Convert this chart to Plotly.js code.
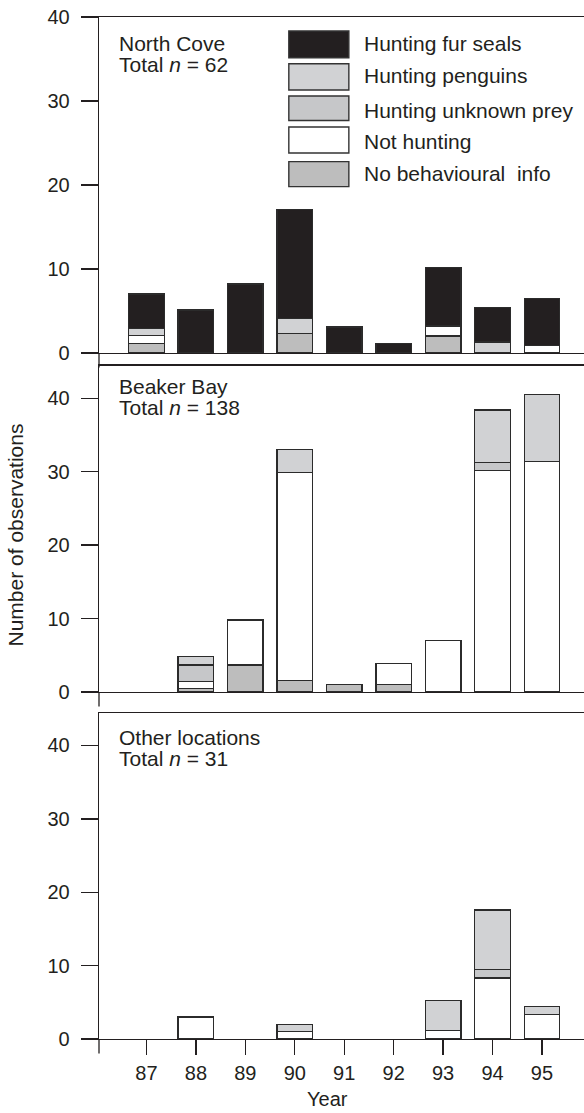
<!DOCTYPE html>
<html><head><meta charset="utf-8">
<script src="https://cdn.plot.ly/plotly-3.0.1.min.js"></script>
<style>html,body{margin:0;padding:0;background:#fff}</style>
</head><body><div id="chart" style="width:584px;height:1113px"></div>
<script>
// ---------- DATA ----------
const years = [87, 88, 89, 90, 91, 92, 93, 94, 95];
const yTicks = [0, 10, 20, 30, 40];
const seriesNames = ['No behavioural\u00a0 info', 'Not hunting', 'Hunting unknown prey', 'Hunting penguins', 'Hunting fur seals'];
const seriesColors = ['#bdbdbd', '#ffffff', '#c6c7c9', '#d1d2d4', '#231f20'];

// North Cove (Total n = 62)
const ncNoInfo   = [1.1, null, null, 2.3, null, null, 2.0, null, null];
const ncNotHunt  = [1.0, null, null, null, null, null, 1.2, null, 0.9];
const ncUnknown  = [null, null, null, null, null, null, null, null, null];
const ncPenguins = [0.8, null, null, 1.8, null, null, null, 1.3, null];
const ncFurSeals = [4.1, 5.1, 8.2, 13.0, 3.1, 1.1, 7.0, 4.1, 5.6];

// Beaker Bay (Total n = 138)
const bbNoInfo   = [null, 0.5, 3.7, 1.6, 1.0, 1.0, null, null, null];
const bbNotHunt  = [null, 0.9, 6.1, 28.3, null, 2.9, 7.0, 30.2, 31.4];
const bbUnknown  = [null, 2.3, null, null, null, null, null, 1.0, null];
const bbPenguins = [null, 1.1, null, 3.1, null, null, null, 7.2, 9.1];
const bbFurSeals = [null, null, null, null, null, null, null, null, null];

// Other locations (Total n = 31)
const olNoInfo   = [null, null, null, null, null, null, null, null, null];
const olNotHunt  = [null, 3.0, null, 1.0, null, null, 1.2, 8.3, 3.3];
const olUnknown  = [null, null, null, null, null, null, null, 1.2, null];
const olPenguins = [null, null, null, 1.0, null, null, 4.0, 8.1, 1.1];
const olFurSeals = [null, null, null, null, null, null, null, null, null];

const panels = [
  {title: 'North Cove', total: 62, series: [ncNoInfo, ncNotHunt, ncUnknown, ncPenguins, ncFurSeals]},
  {title: 'Beaker Bay', total: 138, series: [bbNoInfo, bbNotHunt, bbUnknown, bbPenguins, bbFurSeals]},
  {title: 'Other locations', total: 31, series: [olNoInfo, olNotHunt, olUnknown, olPenguins, olFurSeals]}
];

// ---------- LAYOUT GEOMETRY (pixels) ----------
const W = 584, H = 1113;
const L = 99.3, R = 584, T = 17, B = 1039.3;
const PH = B - T;
const py = y => (B - y) / PH;
const pxp = x => (x - L) / (R - L);
const ink = '#231f20';
const FONT = '"Liberation Sans", Arial, Helvetica, sans-serif';

// panel pixel frames: [top border, baseline, px per unit]
const frames = [
  {top: 17, base: 353, ppu: 8.4, axis: '3', labelY: [44, 64.5]},
  {top: 365.7, base: 692.3, ppu: 7.35, axis: '2', labelY: [386.5, 408]},
  {top: 713.3, base: 1039.3, ppu: 7.34, axis: '', labelY: [738, 758.5]}
];

const traces = [];
panels.forEach((p, i) => {
  const f = frames[i];
  p.series.forEach((vals, k) => {
    traces.push({
      type: 'bar', x: years, y: vals, name: seriesNames[k],
      xaxis: 'x' + f.axis, yaxis: 'y' + f.axis,
      marker: {color: seriesColors[k], line: {color: '#2b2b2b', width: 1.3}},
      showlegend: false, hoverinfo: 'skip'
    });
  });
});

const layout = {
  width: W, height: H,
  margin: {l: L, r: W - R, t: T, b: H - B, autoexpand: false},
  paper_bgcolor: '#fff', plot_bgcolor: '#fff',
  barmode: 'stack', bargap: 0.28,
  font: {family: FONT, color: ink, size: 20},
  showlegend: false,
  shapes: [], annotations: []
};

frames.forEach((f, i) => {
  const ax = f.axis;
  const xa = {
    anchor: 'y' + ax, domain: [0, 1], range: [86.04, 95.85],
    showline: true, linecolor: ink, linewidth: 1.3, mirror: true,
    showgrid: false, zeroline: false, fixedrange: true
  };
  if (ax === '') {
    Object.assign(xa, {
      tickmode: 'array', tickvals: years, ticktext: years.map(String),
      ticks: 'outside', ticklen: 15, tickwidth: 1.3, tickcolor: ink,
      tickfont: {size: 20, family: FONT, color: ink}, ticklabelstandoff: 1
    });
  } else {
    Object.assign(xa, {matches: 'x', showticklabels: false, ticks: ''});
  }
  const top = (f.base - f.top) / f.ppu;
  const ya = {
    anchor: 'x' + ax, domain: [py(f.base), py(f.top)], range: [0, top],
    showline: true, linecolor: ink, linewidth: 1.3,
    tickmode: 'array', tickvals: yTicks, ticktext: yTicks.map(String),
    ticks: 'outside', ticklen: 17, tickwidth: 1.3, tickcolor: ink,
    tickfont: {size: 20, family: FONT, color: ink}, ticklabelstandoff: 7,
    showgrid: false, zeroline: false, fixedrange: true
  };
  layout['xaxis' + ax] = xa;
  layout['yaxis' + ax] = ya;

  // left axis extends below baseline
  layout.shapes.push({type: 'line', xref: 'paper', yref: 'paper',
    x0: 0, x1: 0, y0: py(f.base), y1: py(f.base + 14.5),
    line: {color: ink, width: 1.3}});

  // panel labels
  const p = panels[i];
  layout.annotations.push({xref: 'paper', yref: 'paper', x: pxp(117.5), y: py(f.labelY[0]),
    xanchor: 'left', yanchor: 'middle', showarrow: false, text: p.title,
    font: {size: 21, family: FONT, color: ink}});
  layout.annotations.push({xref: 'paper', yref: 'paper', x: pxp(117.5), y: py(f.labelY[1]),
    xanchor: 'left', yanchor: 'middle', showarrow: false,
    text: 'Total <i>n</i> = ' + p.total,
    font: {size: 21, family: FONT, color: ink}});
});

// custom legend (legend order: top of stack first)
const legBoxes = [[31, 57.7], [63.7, 90], [96, 120.5], [127, 153], [161.7, 186.7]];
const legTextY = [44, 75.5, 110.5, 141.5, 174];
for (let j = 0; j < 5; j++) {
  const k = 4 - j;
  layout.shapes.push({type: 'rect', xref: 'paper', yref: 'paper',
    x0: pxp(289), x1: pxp(349), y0: py(legBoxes[j][1]), y1: py(legBoxes[j][0]),
    fillcolor: seriesColors[k], line: {color: '#333', width: 1.4}});
  layout.annotations.push({xref: 'paper', yref: 'paper', x: pxp(362.5), y: py(legTextY[j]),
    xanchor: 'left', yanchor: 'middle', showarrow: false, text: seriesNames[k],
    font: {size: 21, family: FONT, color: ink}});
}

// axis titles
layout.annotations.push({xref: 'paper', yref: 'paper', x: pxp(328), y: py(1099),
  xanchor: 'center', yanchor: 'middle', showarrow: false, text: 'Year',
  font: {size: 20, family: FONT, color: ink}});
layout.annotations.push({xref: 'paper', yref: 'paper', x: pxp(16), y: py(535),
  xanchor: 'center', yanchor: 'middle', showarrow: false, textangle: -90,
  text: 'Number of observations', font: {size: 21, family: FONT, color: ink}});

Plotly.newPlot('chart', traces, layout, {staticPlot: true, displayModeBar: false});
</script>
</body></html>
